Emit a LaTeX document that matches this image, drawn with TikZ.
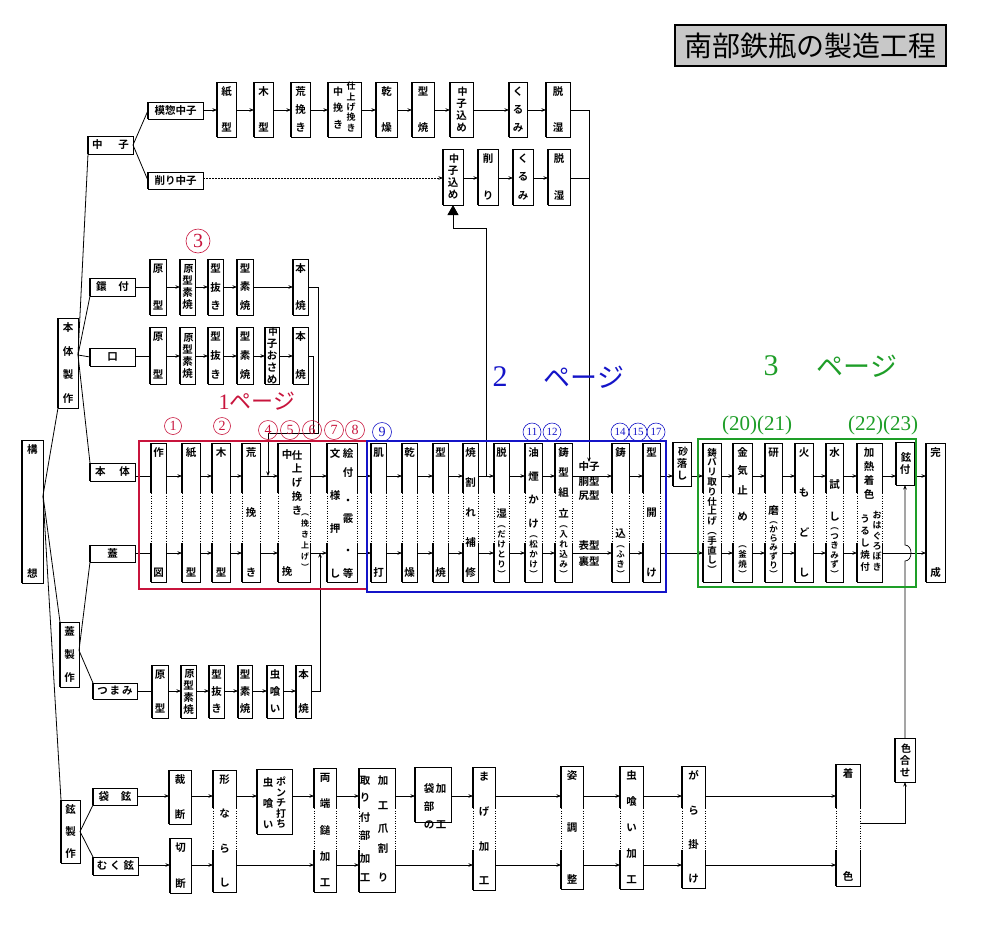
\documentclass[tikz,border=0pt]{standalone}
\usepackage{fontspec}
\setmainfont{Noto Sans CJK JP}[BoldFont={Noto Sans CJK JP Bold}]
\newfontfamily\srf{Liberation Serif}
\usetikzlibrary{arrows.meta}
\definecolor{rc}{HTML}{C8143C}
\definecolor{bc}{HTML}{1414C8}
\definecolor{gc}{HTML}{1E9E28}
\definecolor{tg}{HTML}{C8C8C8}
\newcommand\fz[2]{\fontsize{#1}{#2}\selectfont\bfseries}
\newcommand\fs{\fz{10.5}{12}}
\newcommand\sm{\fz{8.5}{10}}
\newcommand\sep{\par\vfill}
\newcommand\nl{\par}
\newcommand\gp[1]{\par\vspace{#1pt}}
\def\dya{493}\def\dyb{543}
\tikzset{
 bx/.style={inner sep=0pt, outer sep=0pt, fill=white, font=\fs, line width=0.7pt, align=center},
 thk/.style={line width=1.5pt},
 bl/.style={line width=0.7pt},
 dl/.style={line width=0.8pt, dash pattern=on 1.2pt off 1.3pt},
 cn/.style={line width=0.7pt},
 arr/.style={line width=0.7pt, -{Stealth[length=4.5pt,width=3.5pt]}},
 tl/.style={line width=0.8pt},
 tx/.style={inner sep=0pt, outer sep=0pt, font=\fs, align=center},
 circ/.style={circle, draw, line width=0.6pt, inner sep=0pt, minimum size=19pt, font=\srf\fontsize{14}{14}\selectfont},
 circb/.style={circle, draw, line width=0.6pt, inner sep=0pt, minimum size=18pt, font=\srf\fontsize{11}{11}\selectfont},
}
\newcommand\bxc[6]{%
 \node[bx,draw,minimum width={(#4-#2)*1pt},minimum height={(#5-#3)*1pt}] (#1) at ({(#2+#4)/2},{(#3+#5)/2}) {#6};
 \draw[thk] (#2,#3)--(#2,#5);}
\newcommand\bxv[6]{\bxc{#1}{#2}{#3}{#4}{#5}{\parbox[c][\dimexpr#5pt-#3pt-10pt\relax][s]{\dimexpr#4pt-#2pt\relax}{\centering #6\par}}}
\newcommand\bxd[6]{%
 \node[bx,minimum width={(#4-#2)*1pt},minimum height={(#5-#3)*1pt}] (#1) at ({(#2+#4)/2},{(#3+#5)/2}) {\parbox[c][\dimexpr#5pt-#3pt-10pt\relax][s]{\dimexpr#4pt-#2pt\relax}{\centering #6\par}};
 \draw[bl] (#2,\dya) -- (#2,#3) -- (#4,#3) -- (#4,\dya);
 \draw[bl] (#2,\dyb) -- (#2,#5) -- (#4,#5) -- (#4,\dyb);
 \draw[dl] (#2,\dya) -- (#2,\dyb) (#4,\dya) -- (#4,\dyb);
 \draw[thk] (#2,#3) -- (#2,\dya) (#2,\dyb) -- (#2,#5);}
\newcommand\arw[3]{\draw[arr] (#1.east |- #3) -- (#2.west |- #3);}
\newcommand\lnw[3]{\draw[cn] (#1.east |- #3) -- (#2.west |- #3);}
\begin{document}
\begin{tikzpicture}[x=1pt,y=-1pt]
\fill[white] (0,0) rectangle (1000,940);
\useasboundingbox (0,0) rectangle (1000,940);
\coordinate (yA) at (0,110);
\coordinate (yB) at (0,178);
\coordinate (yC) at (0,287);
\coordinate (yD) at (0,356);
\coordinate (yE) at (0,691);
\coordinate (RT) at (0,476);
\coordinate (RB) at (0,553);
\coordinate (y1) at (0,796);
\coordinate (y2) at (0,865);
\coordinate (yI) at (0,823);
\coordinate (j4) at (268,476);
\coordinate (j7) at (320,553);
\coordinate (jn) at (486,476);

% title
\node[draw, line width=1.1pt, fill=tg, minimum width=271pt, minimum height=41pt, inner sep=0pt, font=\fontsize{28}{28}\selectfont] (title) at (810.5,45.5) {南部鉄瓶の製造工程};

% tree boxes
\bxv{koso}{22}{440}{43}{583}{構\sep 想}
\bxv{hs}{58}{318}{78}{408}{本\sep 体\sep 製\sep 作}
\bxv{fs}{60}{622}{79}{687}{蓋\sep 製\sep 作}
\bxv{ts}{61}{800}{80}{863}{鉉\sep 製\sep 作}
\bxc{nakago}{88}{136}{133}{154}{中\hspace{16pt}子}
\bxc{mokuso}{148}{102}{203}{119}{模惣中子}
\bxc{kezuri}{148}{172}{203}{189}{削り中子}
\bxc{kantsuki}{90}{278}{135}{296}{鐶\hspace{12pt}付}
\bxc{kuchi}{90}{348}{135}{366}{口}
\bxc{hontai}{90}{463}{135}{481}{本\hspace{14pt}体}
\bxc{futa}{90}{545}{135}{562}{蓋}
\bxc{tsumami}{93}{683}{137}{699}{つ\hspace{2pt}ま\hspace{2pt}み}
\bxc{fukuro}{93}{788}{137}{805}{袋\hspace{12pt}鉉}
\bxc{muku}{93}{857}{138}{875}{む\hspace{3pt}く\hspace{3pt}鉉}

% row A
\bxv{kA1}{217}{82}{236}{137}{紙\sep 型}
\bxv{kA2}{254}{82}{273}{137}{木\sep 型}
\bxv{kA3}{291}{82}{310}{137}{荒\sep 挽\sep き}
\bxc{kA4}{328}{82}{361}{137}{}
\node[tx,font=\fz{10}{16.5}] (kA4l) at (338,108) {中\\挽\\き};
\node[tx,font=\fz{9}{10.3}] (kA4r) at (351,107) {仕\\上\\げ\\挽\\き};
\bxv{kA5}{376}{82}{397}{137}{乾\sep 燥}
\bxv{kA6}{412}{82}{434}{137}{型\sep 焼}
\bxc{kA7}{450}{82}{473}{137}{\fz{10}{11.5} 中\\子\\込\\め}
\bxv{kA8}{509}{82}{527}{137}{く\sep る\sep み}
\bxv{kA9}{546}{82}{570}{137}{脱\sep 湿}
% row B
\bxc{kB1}{443}{149}{463}{205}{\fz{10}{12} 中\\子\\込\\め}
\bxv{kB2}{478}{149}{498}{205}{削\sep り}
\bxv{kB3}{513}{149}{533}{205}{く\sep る\sep み}
\bxv{kB4}{548}{149}{570}{205}{脱\sep 湿}
% row C
\bxv{c1}{150}{259}{166}{315}{原\sep 型}
\bxc{c2}{180}{259}{195}{315}{\fz{10}{12.5} 原\\型\\素\\焼}
\bxv{c3}{208}{259}{223}{315}{型\sep 抜\sep き}
\bxv{c4}{237}{259}{253}{315}{型\sep 素\sep 焼}
\bxv{c5}{293}{259}{308}{315}{本\sep 焼}
% row D
\bxv{d1}{150}{327}{166}{384}{原\sep 型}
\bxc{d2}{180}{327}{195}{384}{\fz{10}{12.5} 原\\型\\素\\焼}
\bxv{d3}{208}{327}{223}{384}{型\sep 抜\sep き}
\bxv{d4}{237}{327}{253}{384}{型\sep 素\sep 焼}
\bxc{d5}{265}{327}{279}{384}{\fz{9.5}{10.5} 中\\子\\お\\さ\\め}
\bxv{d6}{293}{327}{308}{384}{本\sep 焼}
% row E
\bxv{e1}{152}{665}{168}{718}{原\sep 型}
\bxc{e2}{181}{665}{196}{718}{\fz{10}{12.5} 原\\型\\素\\焼}
\bxv{e3}{209}{665}{224}{718}{型\sep 抜\sep き}
\bxv{e4}{238}{665}{252}{718}{型\sep 素\sep 焼}
\bxv{e5}{267}{665}{283}{718}{虫\sep 喰\sep い}
\bxv{e6}{296}{665}{311}{718}{本\sep 焼}

% main row
\def\dya{493}\def\dyb{543}
\bxd{m1}{151}{443}{166}{582}{作\sep 図}
\bxd{m2}{182}{443}{200}{582}{紙\sep 型}
\bxd{m3}{212}{443}{230}{582}{木\sep 型}
\bxd{m4}{242}{443}{260}{582}{荒\sep 挽\sep き}
\bxd{m5}{278}{443}{310}{582}{}
\node[tx] (m5a) at (287,513.5) {中\\[105pt]挽};
\node[tx,font=\fz{10.5}{13.75}] (m5b) at (297,482.5) {仕\\上\\げ\\挽\\き};
\node[tx,font=\fz{8}{11}] (m5c) at (305,542) {︵\\挽\\き\\上\\げ\\︶};
\bxd{m6}{327}{443}{357}{582}{}
\node[tx] (m6r) at (348,513) {絵\\[7pt]付\\[16pt]・\\[6pt]霰\\[20pt]・\\[11pt]等};
\node[tx] (m6l) at (335,513) {文\\[30pt]様\\[21pt]押\\[33pt]し};
\bxd{m7}{371}{443}{386}{582}{肌\sep 打}
\bxd{m8}{402}{443}{417}{582}{乾\sep 燥}
\bxd{m9}{433}{443}{448}{582}{型\sep 焼}
\bxd{m10}{463}{443}{478}{582}{焼\sep 割\sep れ\sep 補\sep 修}
\bxd{m11}{494}{443}{509}{582}{脱\sep 湿\nl{\sm ︵\nl だ\nl け\nl と\nl り\nl ︶\par}}
\bxd{m12}{525}{443}{542}{582}{油\sep 煙\sep か\sep け\nl{\sm ︵\nl 松\nl か\nl け\nl ︶\par}}
\bxd{m13}{555}{443}{572}{582}{鋳\sep 型\sep 組\sep 立\nl{\sm ︵\nl 入\nl れ\nl 込\nl み\nl ︶\par}}
\bxd{m14}{612}{443}{629}{582}{鋳\sep 込\nl{\sm ︵\nl ふ\nl き\nl ︶\par}}
\bxd{m15}{643}{443}{660}{582}{型\sep 開\sep け}
\bxc{sand}{673}{442}{691}{486}{\fz{10}{12.5} 砂\\落\\し}
\bxd{g1}{703}{443}{721}{582}{\fz{9.5}{9.8} 鋳\nl バ\nl リ\nl 取\nl り\nl 仕\nl 上\nl げ\nl ︵\nl 手\nl 直\nl し\nl ︶}
\bxd{g2}{733}{443}{752}{582}{金\gp{6}気\gp{8}止\gp{14}め\sep{\sm ︵\nl 釜\nl 焼\nl ︶\par}}
\bxd{g3}{765}{443}{782}{582}{研\sep 磨\nl{\fz{8.5}{9} ︵\nl か\nl ら\nl み\nl ず\nl り\nl ︶\par}}
\bxd{g4}{795}{443}{813}{582}{火\sep も\sep ど\sep し}
\bxd{g5}{826}{443}{843}{582}{水\sep 試\sep し\nl{\fz{8.5}{9.5} ︵\nl つ\nl き\nl み\nl ず\nl ︶\par}}
\bxd{g6}{857}{443}{882}{582}{}
\node[tx,font=\fz{10.5}{14.3}] (g6a) at (869,473.5) {加\\熱\\着\\色};
\node[tx,font=\fz{9}{10.4}] (g6b) at (877,541) {お\\は\\ぐ\\ろ\\ぼ\\き};
\node[tx,font=\fz{9.5}{12}] (g6c) at (865,543) {う\\る\\し\\焼\\付};
\bxc{g7}{896}{442}{914}{485}{\fz{10.5}{17} 鉉\\付}
\bxv{g8}{926}{443}{945}{582}{完\sep 成}
\node[tx] (lnak) at (589,467) {中子};
\node[tx,font=\fz{10.5}{14}] (ldou) at (589,489) {胴型\\尻型};
\node[tx] (lomote) at (589,545) {表型};
\node[tx] (lura) at (589,561) {裏型};

% bottom area
\def\dya{808}\def\dyb{850}
\bxv{saidan}{169}{770}{191}{824}{裁\sep 断}
\bxv{setsudan}{170}{838}{191}{893}{切\sep 断}
\bxd{narashi}{213}{770}{236}{892}{形\sep な\sep ら\sep し}
\bxc{ponchi}{257}{769}{292}{834}{}
\node[tx,font=\fz{10}{10.5}] (ponr) at (281,803) {ポ\\ン\\チ\\打\\ち};
\node[tx,font=\fz{10.5}{21}] (ponl) at (268,803) {虫\\喰\\い};
\bxd{ryotan}{314}{768}{336}{892}{両\sep 端\sep 鎚\sep 加\sep 工}
\bxd{toritsuke}{359}{768}{395}{892}{}
\node[tx] (torr) at (383,828.5) {加\\[13pt]工\\[11pt]爪\\[8pt]割\\[17pt]り};
\node[tx] (torl) at (365,828.5) {取\\[5pt]り\\[8pt]付\\[6pt]部\\[11pt]加\\[7pt]工};
\bxc{fukurobu}{415}{767}{451}{822}{}
\node[tx,font=\fz{10.5}{18}] (fukl) at (429,806) {袋\\部\\の};
\node[tx,font=\fz{10.5}{36}] (fukr) at (441,806) {加\\工};
\bxd{mage}{473}{767}{495}{890}{ま\sep げ\sep 加\sep 工}
\bxd{sugata}{561}{766}{583}{889}{姿\sep 調\sep 整}
\bxd{mushi}{620}{766}{643}{889}{虫\sep 喰\sep い\sep 加\sep 工}
\bxd{gara}{682}{766}{705}{888}{が\sep ら\sep 掛\sep け}
\bxd{chaku}{836}{764}{860}{886}{着\sep 色}
\bxc{iro}{895}{738}{915}{782}{\fz{10}{12} 色\\合\\せ}

% tree lines
\draw[tl] ([yshift=16pt]koso.east) -- (hs.south west);
\draw[tl] ([yshift=16pt]koso.east) -- (fs.north west);
\draw[tl] ([yshift=16pt]koso.east) -- (ts.north west);
\draw[tl] ([yshift=8pt]hs.east) -- (nakago.south west);
\draw[tl] ([yshift=8pt]hs.east) -- (kantsuki.south west);
\draw[tl] ([yshift=8pt]hs.east) -- (kuchi.west);
\draw[tl] ([yshift=8pt]hs.east) -- (hontai.north west);
\draw[tl] ([yshift=4pt]fs.east) -- (futa.south west);
\draw[tl] ([yshift=4pt]fs.east) -- (tsumami.north west);
\draw[tl] (ts.east) -- (fukuro.south west);
\draw[tl] (ts.east) -- (muku.north west);
\draw[tl] (nakago.east) -- (mokuso.west);
\draw[tl] (nakago.east) -- (kezuri.west);

% connectors
\foreach \a/\b in {mokuso/kA1,kA1/kA2,kA2/kA3,kA3/kA4,kA4/kA5,kA5/kA6,kA6/kA7,kA7/kA8,kA8/kA9} {\arw{\a}{\b}{yA}}
\draw[arr, dash pattern=on 1.5pt off 1.5pt] (kezuri.east |- yB) -- (kB1.west |- yB);
\foreach \a/\b in {kB1/kB2,kB2/kB3,kB3/kB4} {\arw{\a}{\b}{yB}}
\lnw{kantsuki}{c1}{yC}
\foreach \a/\b in {c1/c2,c2/c3,c3/c4,c4/c5} {\arw{\a}{\b}{yC}}
\lnw{kuchi}{d1}{yD}
\foreach \a/\b in {d1/d2,d2/d3,d3/d4,d4/d5,d5/d6} {\arw{\a}{\b}{yD}}
\lnw{tsumami}{e1}{yE}
\foreach \a/\b in {e1/e2,e2/e3,e3/e4,e4/e5,e5/e6} {\arw{\a}{\b}{yE}}
\lnw{hontai}{m1}{RT}
\foreach \a/\b in {m1/m2,m2/m3,m3/m4,m4/m5,m5/m6,m6/m7,m7/m8,m8/m9,m9/m10,m10/m11,m11/m12,m12/m13,m13/m14,m14/m15,m15/sand,sand/g1,g1/g2,g2/g3,g3/g4,g4/g5,g5/g6,g6/g7,g7/g8} {\arw{\a}{\b}{RT}}
\lnw{futa}{m1}{RB}
\foreach \a/\b in {m1/m2,m2/m3,m3/m4,m4/m5,m5/m6,m6/m7,m7/m8,m8/m9,m9/m10,m10/m11,m11/m12,m12/m13,m13/m14,m14/m15,m15/g1,g1/g2,g2/g3,g3/g4,g4/g5,g5/g6,g6/g8} {\arw{\a}{\b}{RB}}
\foreach \a/\b in {fukuro/saidan,saidan/narashi,narashi/ponchi,ponchi/ryotan,ryotan/toritsuke,toritsuke/fukurobu,fukurobu/mage,mage/sugata,sugata/mushi,mushi/gara,gara/chaku} {\arw{\a}{\b}{y1}}
\foreach \a/\b in {muku/setsudan,setsudan/narashi,narashi/ryotan,ryotan/toritsuke,toritsuke/mage,mage/sugata,sugata/mushi,mushi/gara,gara/chaku} {\arw{\a}{\b}{y2}}

\draw[arr] (c5.east |- yC) -| (318,433) -| (j4);
\draw[cn] (d6.east |- yD) -| (313,433);
\draw[arr] (e6.east |- yE) -| (j7);
\draw[line width=0.9pt, -{Triangle[width=11pt,length=10pt]}] (jn) -- (486,228) -| (kB1.south);
\draw[arr] (kA9.east |- yA) -| (lnak.north);
\draw[cn] (kB4.east |- yB) -- (lnak.north |- yB);
\draw[arr] (chaku.east |- yI) -| (iro.south);
\draw[arr] (iro.north) -- (905,561) .. controls (913,561) and (913,545) .. (905,545) -- (g7.south);

% frames
\draw[rc, line width=1.6pt] (139,441) rectangle (367,589);
\draw[bc, line width=1.6pt] (367,441) rectangle (666,592);
\draw[gc, line width=1.6pt] (698,439) rectangle (916,587);

% numbers
\node[circ, rc, minimum size=24pt, font=\srf\fontsize{20}{20}\selectfont] (n3) at (198,241) {3};
\node[circ, rc, minimum size=17pt] (n1) at (173,426) {1};
\node[circ, rc, minimum size=17pt] (n2) at (222,426) {2};
\node[circ, rc] (n4) at (268,430) {4};
\node[circ, rc] (n5) at (290,430) {5};
\node[circ, rc] (n6) at (312,430) {6};
\node[circ, rc] (n7) at (334,430) {7};
\node[circ, rc] (n8) at (355,430) {8};
\node[circ, bc] (n9) at (382,432) {9};
\node[circb, bc] (n11) at (532,432) {11};
\node[circb, bc] (n12) at (552,432) {12};
\node[circb, bc] (n14) at (620,432) {14};
\node[circb, bc] (n15) at (638,432) {15};
\node[circb, bc] (n17) at (656,432) {17};
\node[inner sep=0pt, gc, font=\srf\fontsize{21}{21}\selectfont] (g2021) at (757,425) {(20)(21)};
\node[inner sep=0pt, gc, font=\srf\fontsize{21}{21}\selectfont] (g2223) at (883,425) {(22)(23)};
\node[inner sep=0pt, rc, font=\fontsize{22}{22}\selectfont] (p1) at (257,401) {{\srf 1}ページ};
\node[inner sep=0pt, bc, font=\srf\fontsize{30}{30}\selectfont] (p2n) at (500,377) {2};
\node[inner sep=0pt, bc, font=\fontsize{27}{27}\selectfont] (p2) at (584,377) {ページ};
\node[inner sep=0pt, gc, font=\srf\fontsize{30}{30}\selectfont] (p3n) at (771,366) {3};
\node[inner sep=0pt, gc, font=\fontsize{27}{27}\selectfont] (p3) at (857,366) {ページ};
\end{tikzpicture}
\end{document}
